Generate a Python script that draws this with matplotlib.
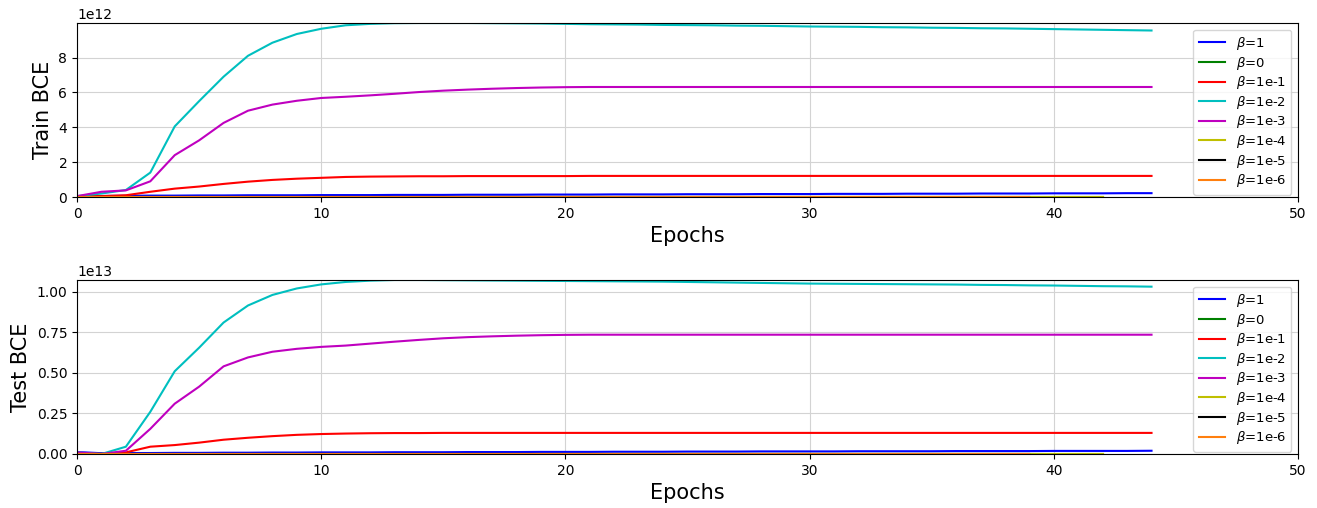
import matplotlib
matplotlib.use("Agg")
import matplotlib.pyplot as plt
from matplotlib.ticker import MultipleLocator
import numpy as np

labels = [r"$\beta$=1", r"$\beta$=0", r"$\beta$=1e-1", r"$\beta$=1e-2",
          r"$\beta$=1e-3", r"$\beta$=1e-4", r"$\beta$=1e-5", r"$\beta$=1e-6"]
colors = ["b", "g", "r", "c", "m", "y", "k", "tab:orange"]

# Train BCE (units of 1e12)
train_b1 = [0.05, 0.06, 0.07, 0.08, 0.08, 0.09, 0.09, 0.10, 0.10, 0.10, 0.11,
            0.11, 0.11, 0.12, 0.12, 0.12, 0.13, 0.13, 0.13, 0.14, 0.14, 0.14,
            0.15, 0.15, 0.15, 0.16, 0.16, 0.16, 0.17, 0.17, 0.17, 0.18, 0.18,
            0.18, 0.19, 0.19, 0.19, 0.20, 0.20, 0.20, 0.21, 0.21, 0.21, 0.22, 0.22]
train_b0 = [0.0] * 43
train_b1e1 = [0.05, 0.05, 0.10, 0.30, 0.48, 0.60, 0.75, 0.88, 0.98, 1.05, 1.10,
              1.15, 1.17, 1.18, 1.19, 1.19, 1.20, 1.20, 1.20, 1.20, 1.20, 1.21,
              1.21, 1.21, 1.21, 1.21, 1.21, 1.21, 1.21, 1.21, 1.21, 1.21, 1.21,
              1.21, 1.21, 1.21, 1.21, 1.21, 1.21, 1.21, 1.21, 1.21, 1.21, 1.21, 1.21]
train_b1e2 = [0.05, 0.20, 0.40, 1.40, 4.05, 5.50, 6.90, 8.10, 8.85, 9.35, 9.65,
              9.85, 9.93, 9.97, 9.98, 9.98, 9.98, 9.97, 9.96, 9.95, 9.93, 9.91,
              9.90, 9.89, 9.87, 9.86, 9.85, 9.83, 9.82, 9.80, 9.78, 9.77, 9.76,
              9.74, 9.73, 9.71, 9.70, 9.68, 9.67, 9.65, 9.63, 9.61, 9.59, 9.57, 9.55]
train_b1e3 = [0.05, 0.30, 0.38, 0.90, 2.40, 3.25, 4.25, 4.95, 5.30, 5.52, 5.68,
              5.75, 5.83, 5.92, 6.02, 6.10, 6.16, 6.21, 6.25, 6.28, 6.30, 6.31,
              6.31, 6.31, 6.31, 6.31, 6.31, 6.31, 6.31, 6.31, 6.31, 6.31, 6.31,
              6.31, 6.31, 6.31, 6.31, 6.31, 6.31, 6.31, 6.31, 6.31, 6.31, 6.31, 6.31]
train_b1e4 = [0.0] * 43
train_b1e5 = [0.0] * 40
train_b1e6 = [0.0] * 40

# Test BCE (units of 1e13)
test_b1 = [0.012, 0.005, 0.006, 0.006, 0.007, 0.007, 0.008, 0.008, 0.009, 0.009,
           0.010, 0.010, 0.010, 0.011, 0.011, 0.011, 0.012, 0.012, 0.012, 0.013,
           0.013, 0.013, 0.014, 0.014, 0.014, 0.015, 0.015, 0.015, 0.016, 0.016,
           0.016, 0.016, 0.017, 0.017, 0.017, 0.017, 0.018, 0.018, 0.018, 0.018,
           0.019, 0.019, 0.019, 0.019, 0.020]
test_b0 = [0.0] * 43
test_b1e1 = [0.005, 0.0, 0.010, 0.045, 0.055, 0.070, 0.088, 0.100, 0.110, 0.118,
             0.123, 0.126, 0.128, 0.129, 0.129, 0.130, 0.130, 0.130, 0.130, 0.130,
             0.130, 0.130, 0.130, 0.130, 0.130, 0.130, 0.130, 0.130, 0.130, 0.130,
             0.130, 0.130, 0.130, 0.130, 0.130, 0.130, 0.130, 0.130, 0.130, 0.130,
             0.130, 0.130, 0.130, 0.130, 0.130]
test_b1e2 = [0.010, 0.0, 0.045, 0.260, 0.510, 0.655, 0.810, 0.915, 0.980, 1.020,
             1.045, 1.060, 1.068, 1.072, 1.072, 1.071, 1.070, 1.069, 1.068, 1.067,
             1.066, 1.065, 1.064, 1.063, 1.062, 1.060, 1.058, 1.056, 1.054, 1.052,
             1.050, 1.049, 1.048, 1.047, 1.046, 1.045, 1.044, 1.042, 1.041, 1.039,
             1.038, 1.036, 1.034, 1.033, 1.031]
test_b1e3 = [0.010, 0.0, 0.020, 0.155, 0.310, 0.415, 0.540, 0.595, 0.630, 0.648,
             0.660, 0.668, 0.680, 0.692, 0.703, 0.713, 0.720, 0.725, 0.729, 0.732,
             0.734, 0.735, 0.735, 0.735, 0.735, 0.735, 0.735, 0.735, 0.735, 0.735,
             0.735, 0.735, 0.735, 0.735, 0.735, 0.735, 0.735, 0.735, 0.735, 0.735,
             0.735, 0.735, 0.735, 0.735, 0.735]
test_b1e4 = [0.0] * 43
test_b1e5 = [0.0] * 40
test_b1e6 = [0.0] * 40

train_series = [train_b1, train_b0, train_b1e1, train_b1e2, train_b1e3,
                train_b1e4, train_b1e5, train_b1e6]
test_series = [test_b1, test_b0, test_b1e1, test_b1e2, test_b1e3,
               test_b1e4, test_b1e5, test_b1e6]

fig = plt.figure(figsize=(13.17, 5.08), dpi=100)
ax1 = fig.add_axes([0.0585, 0.6122, 0.9271, 0.3425])
ax2 = fig.add_axes([0.0585, 0.1063, 0.9271, 0.3425])

for ax, series, scale, ylabel, step in [(ax1, train_series, 1e12, "Train BCE", 2e12),
                                        (ax2, test_series, 1e13, "Test BCE", 0.25e13)]:
    for vals, c, lab in zip(series, colors, labels):
        ax.plot(np.arange(len(vals)), np.array(vals) * scale, color=c,
                label=lab, linewidth=1.5)
    top = max(max(v) for v in series) * scale
    ax.set_xlim(0, 50)
    ax.set_ylim(0, top)
    ax.yaxis.set_major_locator(MultipleLocator(step))
    ax.grid(True, color="#d3d3d3", linewidth=0.8)
    ax.set_xlabel("Epochs", fontsize=15)
    ax.set_ylabel(ylabel, fontsize=15)
    ax.tick_params(labelsize=10)
    ax.legend(loc="upper right", fontsize=9.5, labelspacing=0.2,
              borderaxespad=0.5)

fig.savefig("out.png", dpi=100)
